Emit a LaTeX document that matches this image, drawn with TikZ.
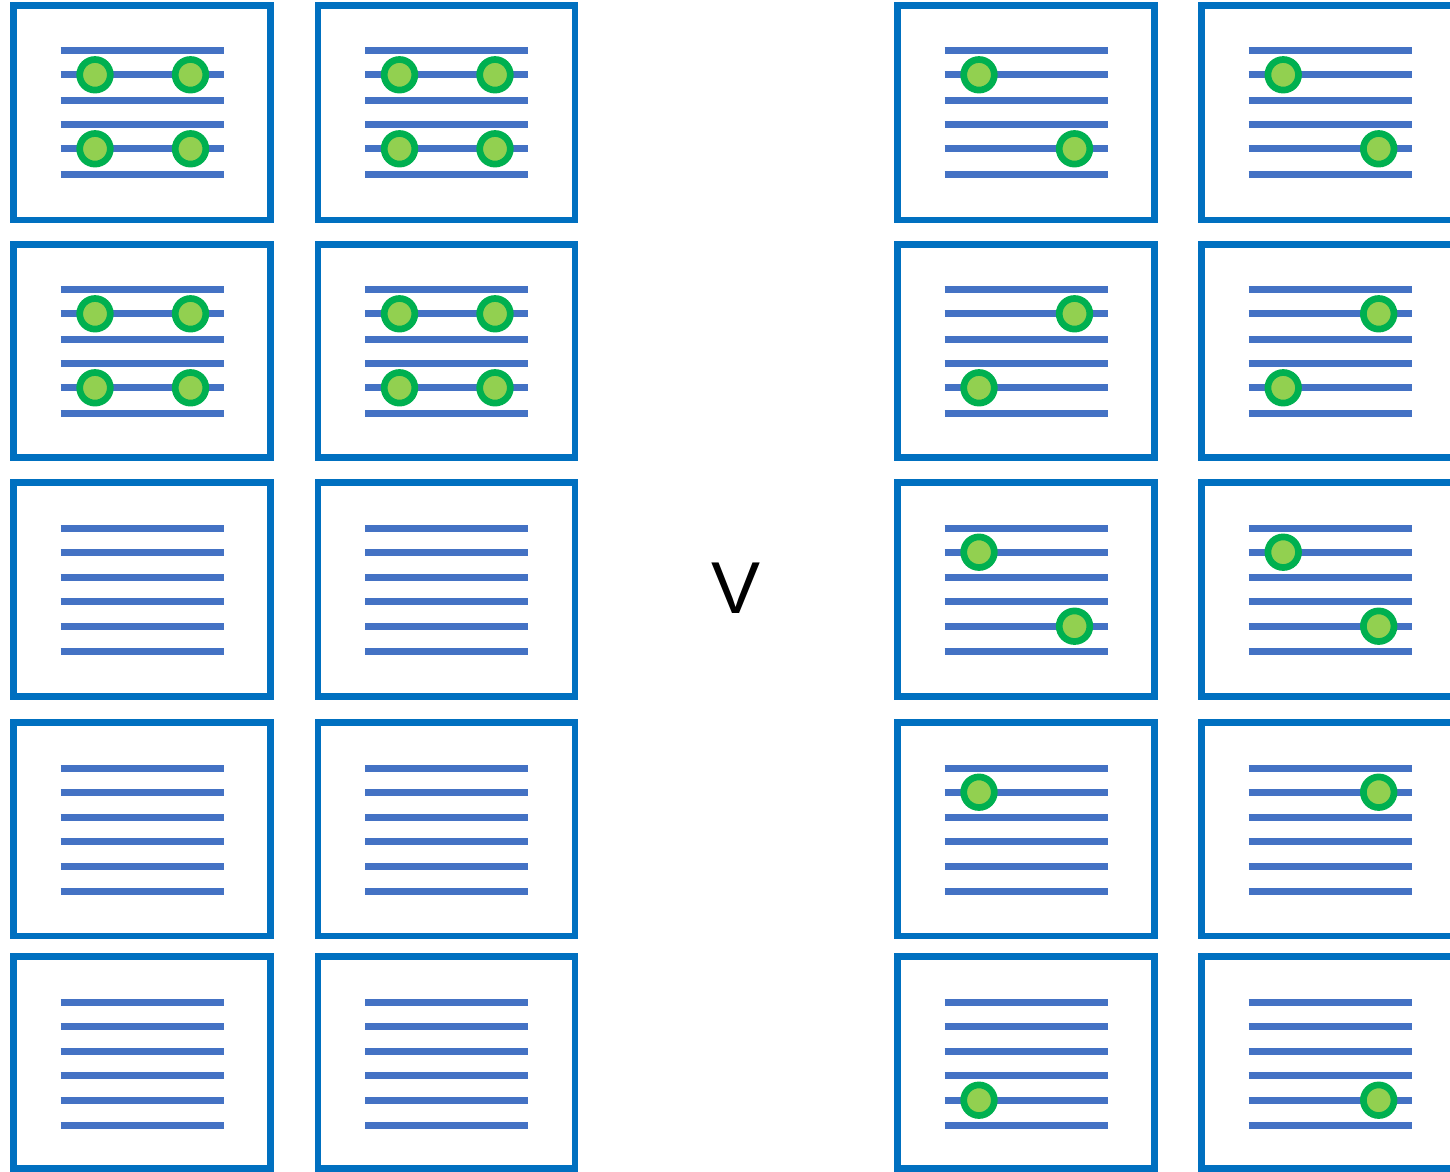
\documentclass[tikz,border=0pt]{standalone}
\usepackage{fontspec}
\setmainfont{Liberation Sans}
\definecolor{boxblue}{HTML}{0070C0}
\definecolor{lineblue}{HTML}{4472C4}
\definecolor{dotring}{HTML}{00B050}
\definecolor{dotfill}{HTML}{92D050}
\begin{document}
\begin{tikzpicture}[x=1pt,y=-1pt,
  panel/.style={draw=boxblue,line width=6.7pt,rectangle,inner sep=0pt,outer sep=0pt,minimum width=257pt},
  textline/.style={draw=lineblue,line width=7pt},
  dot/.style={draw=dotring,fill=dotfill,line width=6.7pt,circle,inner sep=0pt,minimum size=30.6pt}]
\useasboundingbox (0,0) rectangle (1450,1171);
% panels and their text lines
\foreach \c/\cx in {1/142,2/446.5,3/1026,4/1330.2}{
  \foreach \r/\top/\bot in {1/5.3/220,2/244.3/457.7,3/482.7/696.7,4/722.7/936,5/956.7/1168.5}{
    \pgfmathsetmacro\hh{\bot-\top}
    \pgfmathsetmacro\cy{(\bot+\top)/2}
    \node[panel,minimum height=\hh pt] (p-\c-\r) at (\cx,\cy) {};
    \foreach \o in {45.5,69.5,95,119,143.5,169}{
      \draw[textline] ([shift={(-81.5,\o)}]p-\c-\r.north) -- ([shift={(81.5,\o)}]p-\c-\r.north);
    }
  }
}
% dots: column/row/line offset/side
\foreach \c/\r/\o/\dx in {
  1/1/69.5/-47, 1/1/69.5/48.5, 1/1/143.5/-47, 1/1/143.5/48.5,
  2/1/69.5/-47, 2/1/69.5/48.5, 2/1/143.5/-47, 2/1/143.5/48.5,
  1/2/69.5/-47, 1/2/69.5/48.5, 1/2/143.5/-47, 1/2/143.5/48.5,
  2/2/69.5/-47, 2/2/69.5/48.5, 2/2/143.5/-47, 2/2/143.5/48.5,
  3/1/69.5/-47, 3/1/143.5/48.5, 4/1/69.5/-47, 4/1/143.5/48.5,
  3/2/69.5/48.5, 3/2/143.5/-47, 4/2/69.5/48.5, 4/2/143.5/-47,
  3/3/69.5/-47, 3/3/143.5/48.5, 4/3/69.5/-47, 4/3/143.5/48.5,
  3/4/69.5/-47, 4/4/69.5/48.5,
  3/5/143.5/-47, 4/5/143.5/48.5}{
  \node[dot] (d-\c-\r-\o-\dx) at ([shift={(\dx,\o)}]p-\c-\r.north) {};
}
\node[font=\fontsize{73.5}{80}\selectfont,anchor=base,inner sep=0pt] (v) at (736,613.3) {V};
\end{tikzpicture}
\end{document}
